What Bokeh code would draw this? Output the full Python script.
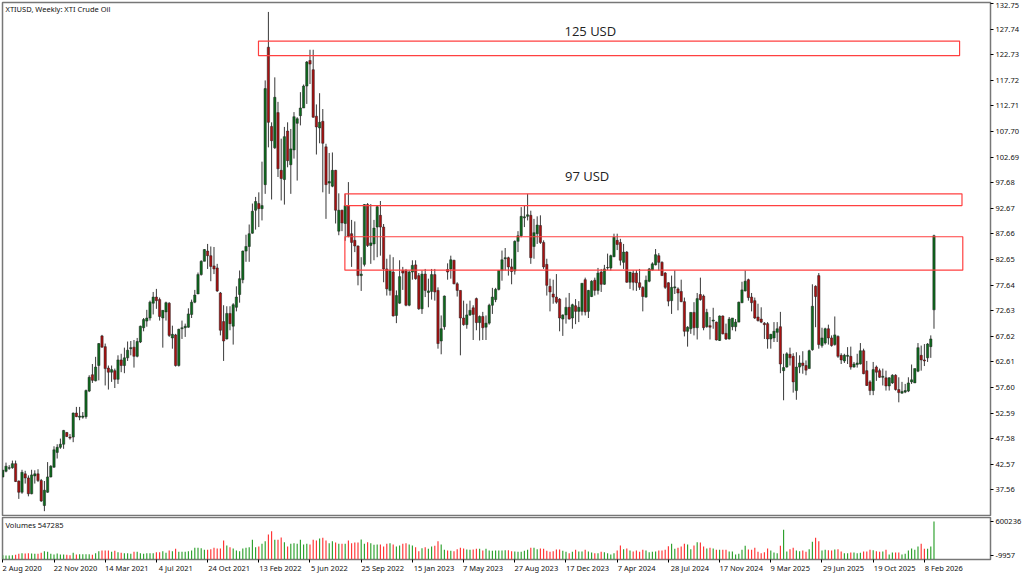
from bokeh.plotting import figure
from bokeh.models import ColumnDataSource, FixedTicker, Label, LinearAxis, NumeralTickFormatter, Range1d, AllLabels
from bokeh.layouts import column
from bokeh.core.properties import value
from bokeh.embed import file_html
from bokeh.resources import INLINE
import numpy as np

# weekly candles
opens = [
    40.1,41.2,41.8,41.9,42.7,39.3,37.1,40.7,39.9,36.8,
    40.3,40.7,39.4,34.5,37.1,40.1,42.0,44.9,45.9,46.5,
    48.8,47.9,47.9,52.6,51.8,51.8,51.9,56.9,60.1,58.9,
    61.9,67.7,65.6,61.4,60.6,60.9,59.2,63.0,61.9,63.4,
    65.2,65.5,63.7,66.5,69.3,70.6,71.2,74.1,75.3,74.8,
    71.2,72.4,74.1,67.3,67.9,61.9,69.1,69.3,69.4,71.9,
    74.3,75.9,79.7,82.3,84.3,83.4,81.4,81.0,76.1,70.5,
    67.1,72.1,69.6,73.3,75.8,78.7,84.3,85.2,87.8,92.3,
    93.6,92.6,97.3,124.2,108.7,104.5,111.4,100.1,98.3,107.8,
    101.2,104.1,109.3,110.8,112.3,116.6,121.6,119.8,110.7,108.4,
    109.7,104.7,97.6,97.0,100.1,88.2,92.3,89.7,93.2,87.7,
    86.4,85.3,79.5,81.7,93.4,85.4,85.7,89.0,91.3,89.0,
    80.8,76.6,80.2,71.7,74.1,80.5,80.5,73.7,80.2,81.6,
    79.5,73.0,79.8,76.2,76.4,79.7,76.6,66.7,69.5,80.7,
    80.8,82.5,77.9,76.6,71.2,69.9,71.8,73.2,75.0,70.3,
    71.5,69.4,70.2,73.7,74.8,76.8,80.5,82.8,83.0,81.2,
    80.4,86.2,87.3,90.8,91.1,91.3,85.2,87.7,89.3,86.0,
    81.7,77.4,75.9,75.3,74.9,71.0,71.8,73.3,71.2,73.6,
    72.5,72.5,78.7,72.5,75.4,78.6,76.6,80.2,77.8,81.0,
    81.0,83.2,86.4,86.0,82.1,84.1,78.2,80.0,80.0,78.1,
    77.2,75.3,78.4,80.6,81.6,83.4,82.1,80.0,78.1,74.6,
    77.1,76.9,76.4,74.4,68.6,69.1,72.3,69.3,75.8,75.5,
    69.5,69.7,70.6,70.4,66.8,71.6,68.2,67.1,69.5,69.5,
    70.4,74.2,76.5,78.7,75.3,74.6,71.4,71.0,70.2,70.1,
    67.1,67.3,68.4,69.5,60.9,61.6,64.1,63.7,57.0,61.6,
    62.4,61.9,61.3,65.0,77.4,79.5,65.8,66.3,69.1,67.3,
    66.0,67.6,63.9,62.8,63.7,63.7,61.6,62.1,62.2,64.8,
    60.9,58.7,57.0,61.6,60.9,59.6,59.5,57.9,58.5,60.0,
    57.2,56.5,56.7,56.9,58.7,58.5,60.8,63.9,63.0,63.4,
    65.6,72.8,
]
highs = [
    41.5,42.9,42.4,43.3,43.3,39.4,41.5,41.3,40.4,41.5,
    41.4,41.6,39.7,39.3,43.0,42.4,46.1,46.5,47.6,49.3,
    48.9,48.5,52.7,53.8,53.8,52.8,57.2,60.0,62.2,63.6,
    66.3,67.9,66.2,61.9,61.9,61.3,63.9,64.2,65.4,66.6,
    66.7,66.9,67.3,69.7,71.2,72.8,74.6,76.3,76.9,75.2,
    72.7,74.4,74.3,69.7,68.1,69.1,70.7,70.1,73.1,74.8,
    76.7,80.1,82.5,84.7,85.7,85.2,85.1,81.8,76.3,73.7,
    73.5,73.5,74.1,77.4,80.5,84.4,87.5,89.5,93.6,94.9,
    95.8,101.8,117.7,131.1,109.5,118.3,113.5,106.3,108.6,109.5,
    108.2,111.5,110.5,115.4,116.9,121.5,123.7,123.7,113.0,115.2,
    112.1,105.3,103.5,103.6,100.2,95.6,92.4,95.5,97.8,90.4,
    90.1,85.4,83.1,93.5,93.7,93.5,90.4,93.2,94.1,89.6,
    82.8,83.6,83.1,76.6,82.5,81.2,80.8,80.5,82.5,82.5,
    80.0,80.5,80.8,78.9,80.8,80.8,77.2,71.7,75.6,81.9,
    83.4,82.6,78.2,76.6,74.6,74.0,74.6,73.7,75.2,71.7,
    72.4,71.7,74.0,77.1,77.1,80.6,84.4,84.9,83.2,82.8,
    86.4,88.2,92.9,93.2,95.5,92.2,90.6,91.1,91.3,86.4,
    82.8,78.9,78.7,79.8,75.1,71.9,75.2,76.1,74.0,74.9,
    74.5,78.0,79.1,76.7,78.6,79.1,81.0,80.8,81.6,83.8,
    83.6,87.7,87.7,86.7,85.7,84.3,80.2,80.5,80.6,80.8,
    77.4,79.5,81.0,82.1,84.7,83.9,82.3,80.2,78.2,79.5,
    80.5,77.2,78.7,75.2,69.6,72.3,74.3,76.1,79.1,75.8,
    73.0,71.4,73.2,70.5,71.7,71.7,70.1,71.4,71.2,71.0,
    74.4,78.3,80.5,78.9,76.1,75.2,74.0,73.3,70.4,70.4,
    68.1,70.4,70.4,72.4,64.2,64.5,65.4,64.3,64.5,63.9,
    64.7,62.9,65.0,77.8,77.6,80.0,69.3,69.3,69.9,67.8,
    71.5,67.8,64.3,64.2,65.5,65.6,62.6,64.2,66.3,65.2,
    62.8,59.0,62.6,61.9,61.3,61.3,60.9,59.6,60.2,60.2,
    59.6,58.7,58.3,59.6,62.1,61.3,66.3,65.8,66.1,66.3,
    67.8,87.5,
]
lows = [
    40.0,41.0,41.5,41.7,39.1,35.8,36.8,38.8,36.3,36.7,
    38.8,39.1,35.2,33.4,37.0,40.0,41.9,43.7,45.6,45.6,
    47.9,47.4,46.9,51.8,51.2,51.5,51.5,56.7,58.5,58.8,
    59.0,65.4,58.0,57.2,58.7,57.5,58.3,60.6,60.4,62.8,
    63.9,61.5,63.5,66.3,68.6,69.5,70.7,71.9,73.0,70.7,
    65.4,70.7,67.5,65.2,61.7,61.7,67.1,67.5,69.3,71.2,
    74.1,75.9,79.5,82.3,80.8,78.4,79.8,76.3,67.8,62.8,
    67.0,68.8,66.0,72.5,74.2,78.0,82.2,82.2,87.7,88.5,
    89.0,90.3,95.5,104.6,94.4,104.3,98.8,94.2,93.4,100.7,
    95.5,102.4,98.1,108.9,112.3,113.1,117.0,110.4,103.2,105.4,
    95.8,90.6,95.5,96.8,89.7,87.4,88.2,86.3,87.0,81.2,
    84.1,77.6,76.5,81.3,85.1,81.8,82.5,83.1,83.4,78.2,
    75.6,75.6,71.5,70.2,74.0,76.7,73.5,73.5,78.7,78.7,
    72.8,72.0,75.3,73.3,74.8,74.6,65.2,64.1,68.9,78.7,
    78.9,77.8,75.4,63.9,69.7,69.1,71.6,66.9,68.8,66.8,
    66.9,66.9,69.9,72.0,74.3,76.6,78.5,80.5,79.5,77.8,
    79.7,84.1,87.0,89.0,90.3,81.8,82.8,85.7,85.7,80.8,
    75.6,72.5,74.0,74.0,68.6,67.7,70.1,70.9,69.1,70.0,
    70.4,71.7,71.7,71.2,75.3,75.6,75.8,76.3,77.7,80.6,
    80.5,83.1,84.5,81.5,80.8,78.1,76.9,76.6,76.5,76.7,
    72.5,75.2,78.2,80.5,81.5,80.5,79.5,76.9,73.5,72.0,
    75.9,72.7,74.3,67.6,65.6,68.1,67.8,67.0,74.6,68.8,
    69.3,67.0,69.1,66.8,66.7,68.0,66.9,67.0,68.8,68.6,
    70.4,74.1,76.4,74.6,72.5,71.0,70.5,70.2,67.1,65.2,
    65.2,66.5,66.5,60.4,55.1,61.5,61.9,56.6,55.2,60.4,
    60.3,60.0,61.3,64.8,69.4,65.2,65.4,66.0,66.0,65.6,
    65.8,63.4,62.2,62.4,62.2,61.1,61.5,61.5,62.1,60.2,
    57.9,56.1,56.1,58.9,59.5,58.0,57.0,57.0,58.3,57.0,
    54.7,56.4,56.5,56.7,58.3,58.5,60.6,60.9,61.8,62.6,
    63.4,69.1,
]
closes = [
    41.4,42.2,41.9,42.7,39.2,37.1,41.0,39.9,36.8,40.5,
    40.7,39.4,35.4,37.5,40.1,42.2,45.4,45.9,46.5,49.2,
    48.0,47.7,52.6,51.9,52.0,52.0,57.0,59.6,59.0,61.6,
    66.2,65.5,61.3,60.6,61.1,59.2,63.0,61.9,63.4,64.9,
    65.4,63.7,66.6,69.6,70.9,71.2,74.3,75.3,74.6,71.5,
    72.7,74.2,67.8,68.0,61.9,69.0,69.3,69.6,72.0,74.3,
    75.7,79.7,82.3,84.6,83.4,81.3,80.8,76.5,68.8,66.7,
    72.1,70.1,73.8,75.3,78.9,84.3,85.2,87.7,92.1,94.0,
    92.6,93.2,116.1,109.5,105.9,114.4,100.4,98.5,106.7,102.0,
    104.3,110.6,110.2,112.3,116.6,121.3,120.9,110.5,108.6,109.5,
    105.4,97.3,97.9,100.1,92.3,92.3,89.8,93.2,87.2,86.0,
    85.3,79.5,79.8,93.4,85.4,85.9,88.8,93.0,89.0,80.8,
    76.9,80.5,71.6,75.6,79.3,80.0,73.7,80.2,81.5,78.9,
    73.0,79.8,76.6,76.5,79.7,76.3,66.2,69.1,75.5,80.2,
    82.6,77.9,76.6,71.2,69.9,71.8,72.7,71.9,70.3,71.5,
    69.3,70.2,73.7,75.3,76.8,80.5,82.6,83.0,81.2,80.3,
    86.2,87.3,91.1,91.0,91.4,83.0,87.9,89.4,86.0,81.2,
    77.6,76.3,75.3,74.3,71.2,71.8,73.3,71.0,73.8,72.5,
    73.3,78.0,72.4,76.6,78.4,76.6,80.0,77.8,80.8,81.1,
    83.4,87.0,85.6,82.5,84.1,78.2,80.2,78.2,78.1,77.2,
    75.4,78.6,80.8,81.8,83.6,82.1,79.5,77.2,74.5,77.2,
    77.3,76.1,74.4,68.6,69.4,72.3,69.3,75.0,74.8,69.3,
    72.3,69.4,70.8,66.9,71.6,68.1,67.1,71.0,71.2,70.4,
    74.3,76.7,78.4,75.2,74.2,71.2,70.7,70.4,69.9,67.1,
    68.0,68.6,69.1,62.2,61.5,64.2,63.4,58.7,61.6,62.4,
    61.9,61.0,64.8,73.5,75.4,66.0,67.3,69.1,67.3,65.8,
    67.9,63.7,63.0,63.9,63.9,61.6,62.2,62.4,64.8,60.3,
    58.0,57.0,61.1,60.6,59.6,59.8,57.9,59.5,60.0,57.2,
    56.6,56.8,57.0,58.5,59.1,61.3,65.4,63.0,62.8,66.1,
    67.1,87.3,
]
# volumes in thousands, on the scale of the panel's own axis
volumes = [
    -4,-10,-10,-4,2,20,32,26,32,26,
    20,20,38,68,56,20,8,26,8,8,
    2,-4,38,8,14,14,14,14,2,32,
    68,80,80,80,56,74,50,38,32,32,
    20,56,56,32,20,32,32,32,50,50,
    68,38,80,68,110,56,56,56,68,80,
    128,128,122,92,92,104,128,116,116,259,
    170,140,116,80,68,116,128,140,271,140,
    152,199,247,367,427,271,271,313,229,152,
    199,211,199,271,188,199,188,271,259,295,
    307,259,211,247,223,199,199,199,259,211,
    223,223,277,199,229,211,182,188,188,152,
    199,211,188,152,170,199,211,188,170,140,
    68,122,140,110,152,164,247,188,92,80,
    74,68,104,128,116,98,92,98,110,110,
    80,110,80,74,80,80,80,86,86,68,
    62,56,56,74,92,128,128,104,116,110,
    74,56,68,98,98,74,56,32,56,92,
    62,62,92,62,44,32,32,56,50,32,
    8,32,80,170,104,116,80,62,80,56,
    92,80,50,56,62,80,80,92,158,199,
    110,128,152,199,188,104,170,229,223,152,
    116,128,116,92,92,92,92,62,62,8,
    20,92,164,98,92,128,56,32,50,116,
    80,44,32,164,451,62,104,128,80,68,
    80,56,104,235,307,247,80,92,86,80,
    98,104,62,32,32,44,44,32,38,62,
    62,92,86,68,56,62,92,8,44,44,
    44,8,20,80,116,92,152,199,110,110,
    152,600,
]

price_ticks = [132.75,127.74,122.73,117.72,112.71,107.70,102.69,97.68,92.67,87.66,
               82.65,77.64,72.63,67.62,62.61,57.60,52.59,47.58,42.57,37.56]
date_labels = ["2 Aug 2020","22 Nov 2020","14 Mar 2021","4 Jul 2021","24 Oct 2021","13 Feb 2022",
               "5 Jun 2022","25 Sep 2022","15 Jan 2023","7 May 2023","27 Aug 2023","17 Dec 2023",
               "7 Apr 2024","28 Jul 2024","17 Nov 2024","9 Mar 2025","29 Jun 2025","19 Oct 2025","8 Feb 2026"]
weeks_per_label = 16

# red boxes drawn on the chart: bar index and price
zone_left = [79.9, 106.9, 106.9]
zone_right = [299.0, 299.75, 300.0]
zone_top = [125.4, 95.5, 87.1]
zone_bottom = [122.57, 93.2, 80.56]
note_text = ["125 USD", "97 USD"]
note_x = [183.6, 182.6]
note_y = [127.3, 99.0]

FONT = "Noto Sans"
GREEN = "#0c6a1c"
RED = "#a81010"

idx = np.arange(len(closes))
up = np.array(closes) >= np.array(opens)
source = ColumnDataSource(data=dict(
    i=idx,
    high=highs,
    low=lows,
    top=np.maximum(opens, closes),
    bottom=np.minimum(opens, closes),
    color=[GREEN if u else RED for u in up],
    vol=volumes,
    vol_color=["#2ca02c" if u else "#ff3333" for u in up],
))

x_range = Range1d(-0.094, 308.66)


def style_labels(axis, size="7.5px"):
    axis.axis_line_color = None
    axis.minor_tick_line_color = None
    axis.major_label_text_font = FONT
    axis.major_label_text_font_size = size
    axis.major_label_text_color = "#111111"
    axis.major_label_policy = AllLabels()


def ticks_only(axis):
    # carries the tick marks, the labels sit on a second axis next to it
    style_labels(axis, "1px")
    axis.major_tick_in = 0
    axis.major_tick_out = 3
    axis.major_label_standoff = 0


def labels_only(axis):
    style_labels(axis)
    axis.major_tick_line_color = None
    axis.major_tick_in = 0
    axis.major_tick_out = 0


def style_frame(fig):
    fig.grid.visible = False
    fig.outline_line_color = "#777777"
    fig.outline_line_width = 1.5
    fig.background_fill_color = "white"
    fig.border_fill_color = "white"


# price panel
p = figure(width=1024, height=516, x_range=x_range, y_range=Range1d(32.55, 132.95),
           y_axis_location="right", x_axis_location=None,
           output_backend="svg", toolbar_location=None,
           min_border_left=2, min_border_right=34, min_border_top=2, min_border_bottom=1)
style_frame(p)
ticks_only(p.yaxis[0])
p.yaxis[0].ticker = FixedTicker(ticks=price_ticks)
p.yaxis[0].major_label_overrides = {t: "" for t in price_ticks}
# top label moved down a touch so it stays on the canvas
price_label_at = [price_ticks[0] - 0.39] + price_ticks[1:]
price_axis = LinearAxis(ticker=FixedTicker(ticks=price_label_at), formatter=NumeralTickFormatter(format="0.00"),
                        major_label_overrides={price_label_at[0]: "%.2f" % price_ticks[0]})
labels_only(price_axis)
price_axis.major_label_standoff = 2
p.add_layout(price_axis, "right")

p.segment(x0="i", y0="low", x1="i", y1="high", source=source, line_color="#222222", line_width=0.9)
p.vbar(x="i", top="top", bottom="bottom", width=0.72, source=source,
       fill_color="color", line_color="#222222", line_width=0.5)
p.quad(left=zone_left, right=zone_right, top=zone_top, bottom=zone_bottom,
       fill_color=None, line_color="#ff4040", line_width=1.2)
p.text(x=note_x, y=note_y, text=note_text, text_font=value("Open Sans"), text_font_size="13px",
       text_align="center", text_baseline="middle", text_color="#222222")
p.add_layout(Label(x=3, y=507, x_units="screen", y_units="screen", text="XTIUSD, Weekly:  XTI Crude Oil",
                   text_font=FONT, text_font_size="7.5px", text_baseline="middle", text_color="#111111"))

# volume panel
vol_low = -81.7
v = figure(width=1024, height=60, x_range=x_range, y_range=Range1d(vol_low, 672.0),
           y_axis_location="right", output_backend="svg", toolbar_location=None,
           min_border_left=2, min_border_right=34, min_border_top=1, min_border_bottom=17)
style_frame(v)
style_labels(v.yaxis[0])
v.yaxis[0].major_tick_in = 0
v.yaxis[0].major_tick_out = 3
v.yaxis[0].major_label_standoff = 2
v.yaxis[0].ticker = FixedTicker(ticks=[600.236, -9.957])
v.yaxis[0].major_label_overrides = {600.236: "600236", -9.957: "-9957"}
v.vbar(x="i", top="vol", bottom=vol_low, width=0.36, source=source, fill_color="vol_color", line_color=None)
v.add_layout(Label(x=3, y=35, x_units="screen", y_units="screen", text="Volumes 547285",
                   text_font=FONT, text_font_size="7.5px", text_baseline="middle", text_color="#111111"))

# date labels start at their tick in the reference but an axis can only centre them,
# so the label axis is shifted by half of each label's width
date_ticks = [n * weeks_per_label for n in range(len(date_labels))]
ticks_only(v.xaxis[0])
v.xaxis[0].ticker = FixedTicker(ticks=date_ticks)
v.xaxis[0].major_label_overrides = {t: "" for t in date_ticks}


def half_width_in_bars(label):
    em = sum(0.572 if c.isdigit() else 0.26 if c == " " else 0.6 for c in label)
    return round(em * 7.5 / 2 / 3.2, 2)


date_label_at = [t + half_width_in_bars(s) for t, s in zip(date_ticks, date_labels)]
date_axis = LinearAxis(ticker=FixedTicker(ticks=date_label_at),
                       major_label_overrides=dict(zip(date_label_at, date_labels)))
labels_only(date_axis)
date_axis.major_label_standoff = 0
v.add_layout(date_axis, "below")

layout = column(p, v, spacing=0)
open("out.html", "w").write(file_html(layout, INLINE))
